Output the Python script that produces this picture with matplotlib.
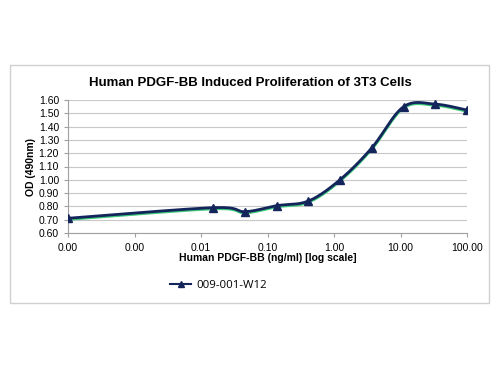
import matplotlib.pyplot as plt
plt.switch_backend('agg')
import numpy as np
from matplotlib.patches import Rectangle
from matplotlib.ticker import FixedLocator, FixedFormatter

# concentrations (ng/ml); the zero well is plotted at the axis minimum
conc = [0.0001, 0.0152, 0.0457, 0.137, 0.412, 1.23, 3.70, 11.1, 33.3, 100.0]
od = [0.71, 0.79, 0.76, 0.805, 0.84, 1.00, 1.24, 1.55, 1.57, 1.525]
series_name = '009-001-W12'
xticks = [0.0001, 0.001, 0.01, 0.1, 1, 10, 100]
xtick_labels = ['0.00', '0.00', '0.01', '0.10', '1.00', '10.00', '100.00']

plt.rcParams['font.family'] = ['Liberation Sans', 'DejaVu Sans']


def smooth(xs, ys, n=30):
    # Catmull-Rom bezier, like the spreadsheet "smoothed line"
    u = np.log10(xs)
    pts = np.column_stack([u, ys])
    p = np.vstack([pts[0], pts, pts[-1]])
    out = []
    for i in range(1, len(p) - 2):
        p0, p1, p2, p3 = p[i - 1], p[i], p[i + 1], p[i + 2]
        c1 = p1 + (p2 - p0) / 6
        c2 = p2 - (p3 - p1) / 6
        t = np.linspace(0, 1, n)[:, None]
        seg = ((1 - t) ** 3) * p1 + 3 * ((1 - t) ** 2) * t * c1 + 3 * (1 - t) * t ** 2 * c2 + t ** 3 * p2
        out.append(seg)
    out = np.vstack(out)
    return 10 ** out[:, 0], out[:, 1]


fig = plt.figure(figsize=(5, 3.75), dpi=100)
fig.patches.append(Rectangle((10 / 500, 1 - 303 / 375), 479 / 500, 238 / 375,
                             transform=fig.transFigure, fill=False,
                             edgecolor='#d0d0d0', linewidth=1))

ax = fig.add_axes([0.136, 0.379, 0.798, 0.354])
ax.set_xscale('log')
ax.set_xlim(0.0001, 100)
ax.set_ylim(0.6, 1.6)

sx, sy = smooth(conc, od)
ax.plot(sx, np.array(sy) - 0.008, color='#3cc878', linewidth=2.2, zorder=2)
ax.plot(sx, sy, color='#14255c', linewidth=2.0, zorder=3)
ax.plot(conc, od, linestyle='none', marker='^', markersize=6,
        color='#14255c', zorder=4)
ax.plot([], [], color='#14255c', marker='^', markersize=4, linewidth=1.5,
        label=series_name)

ax.yaxis.set_major_locator(FixedLocator(np.arange(0.6, 1.61, 0.1)))
ax.yaxis.set_major_formatter(FixedFormatter(['%.2f' % v for v in np.arange(0.6, 1.61, 0.1)]))
ax.xaxis.set_major_locator(FixedLocator(xticks))
ax.xaxis.set_major_formatter(FixedFormatter(xtick_labels))
ax.xaxis.set_minor_locator(FixedLocator([]))
ax.grid(axis='y', color='#c8c8c8', linewidth=0.8)
ax.set_axisbelow(True)
for s in ['top', 'right']:
    ax.spines[s].set_visible(False)
for s in ['left', 'bottom']:
    ax.spines[s].set_color('#a0a0a0')
ax.tick_params(axis='both', labelsize=7.5, color='#a0a0a0', length=3)
ax.tick_params(axis='x', pad=4)

fig.text(0.5, 1 - 83 / 375, 'Human PDGF-BB Induced Proliferation of 3T3 Cells',
         ha='center', va='center', fontsize=9.5, fontweight='bold')
ax.set_xlabel('Human PDGF-BB (ng/ml) [log scale]', fontsize=7.5,
              fontweight='bold', labelpad=0)
ax.set_ylabel('OD (490nm)', fontsize=7.5, fontweight='bold', labelpad=2)

fig.legend(loc='center left', bbox_to_anchor=(160 / 500, 1 - 285 / 375),
           frameon=False, prop={'family': 'Open Sans', 'size': 8.2},
           handlelength=1.8, handletextpad=0.5)

fig.savefig('out.png', dpi=100)
